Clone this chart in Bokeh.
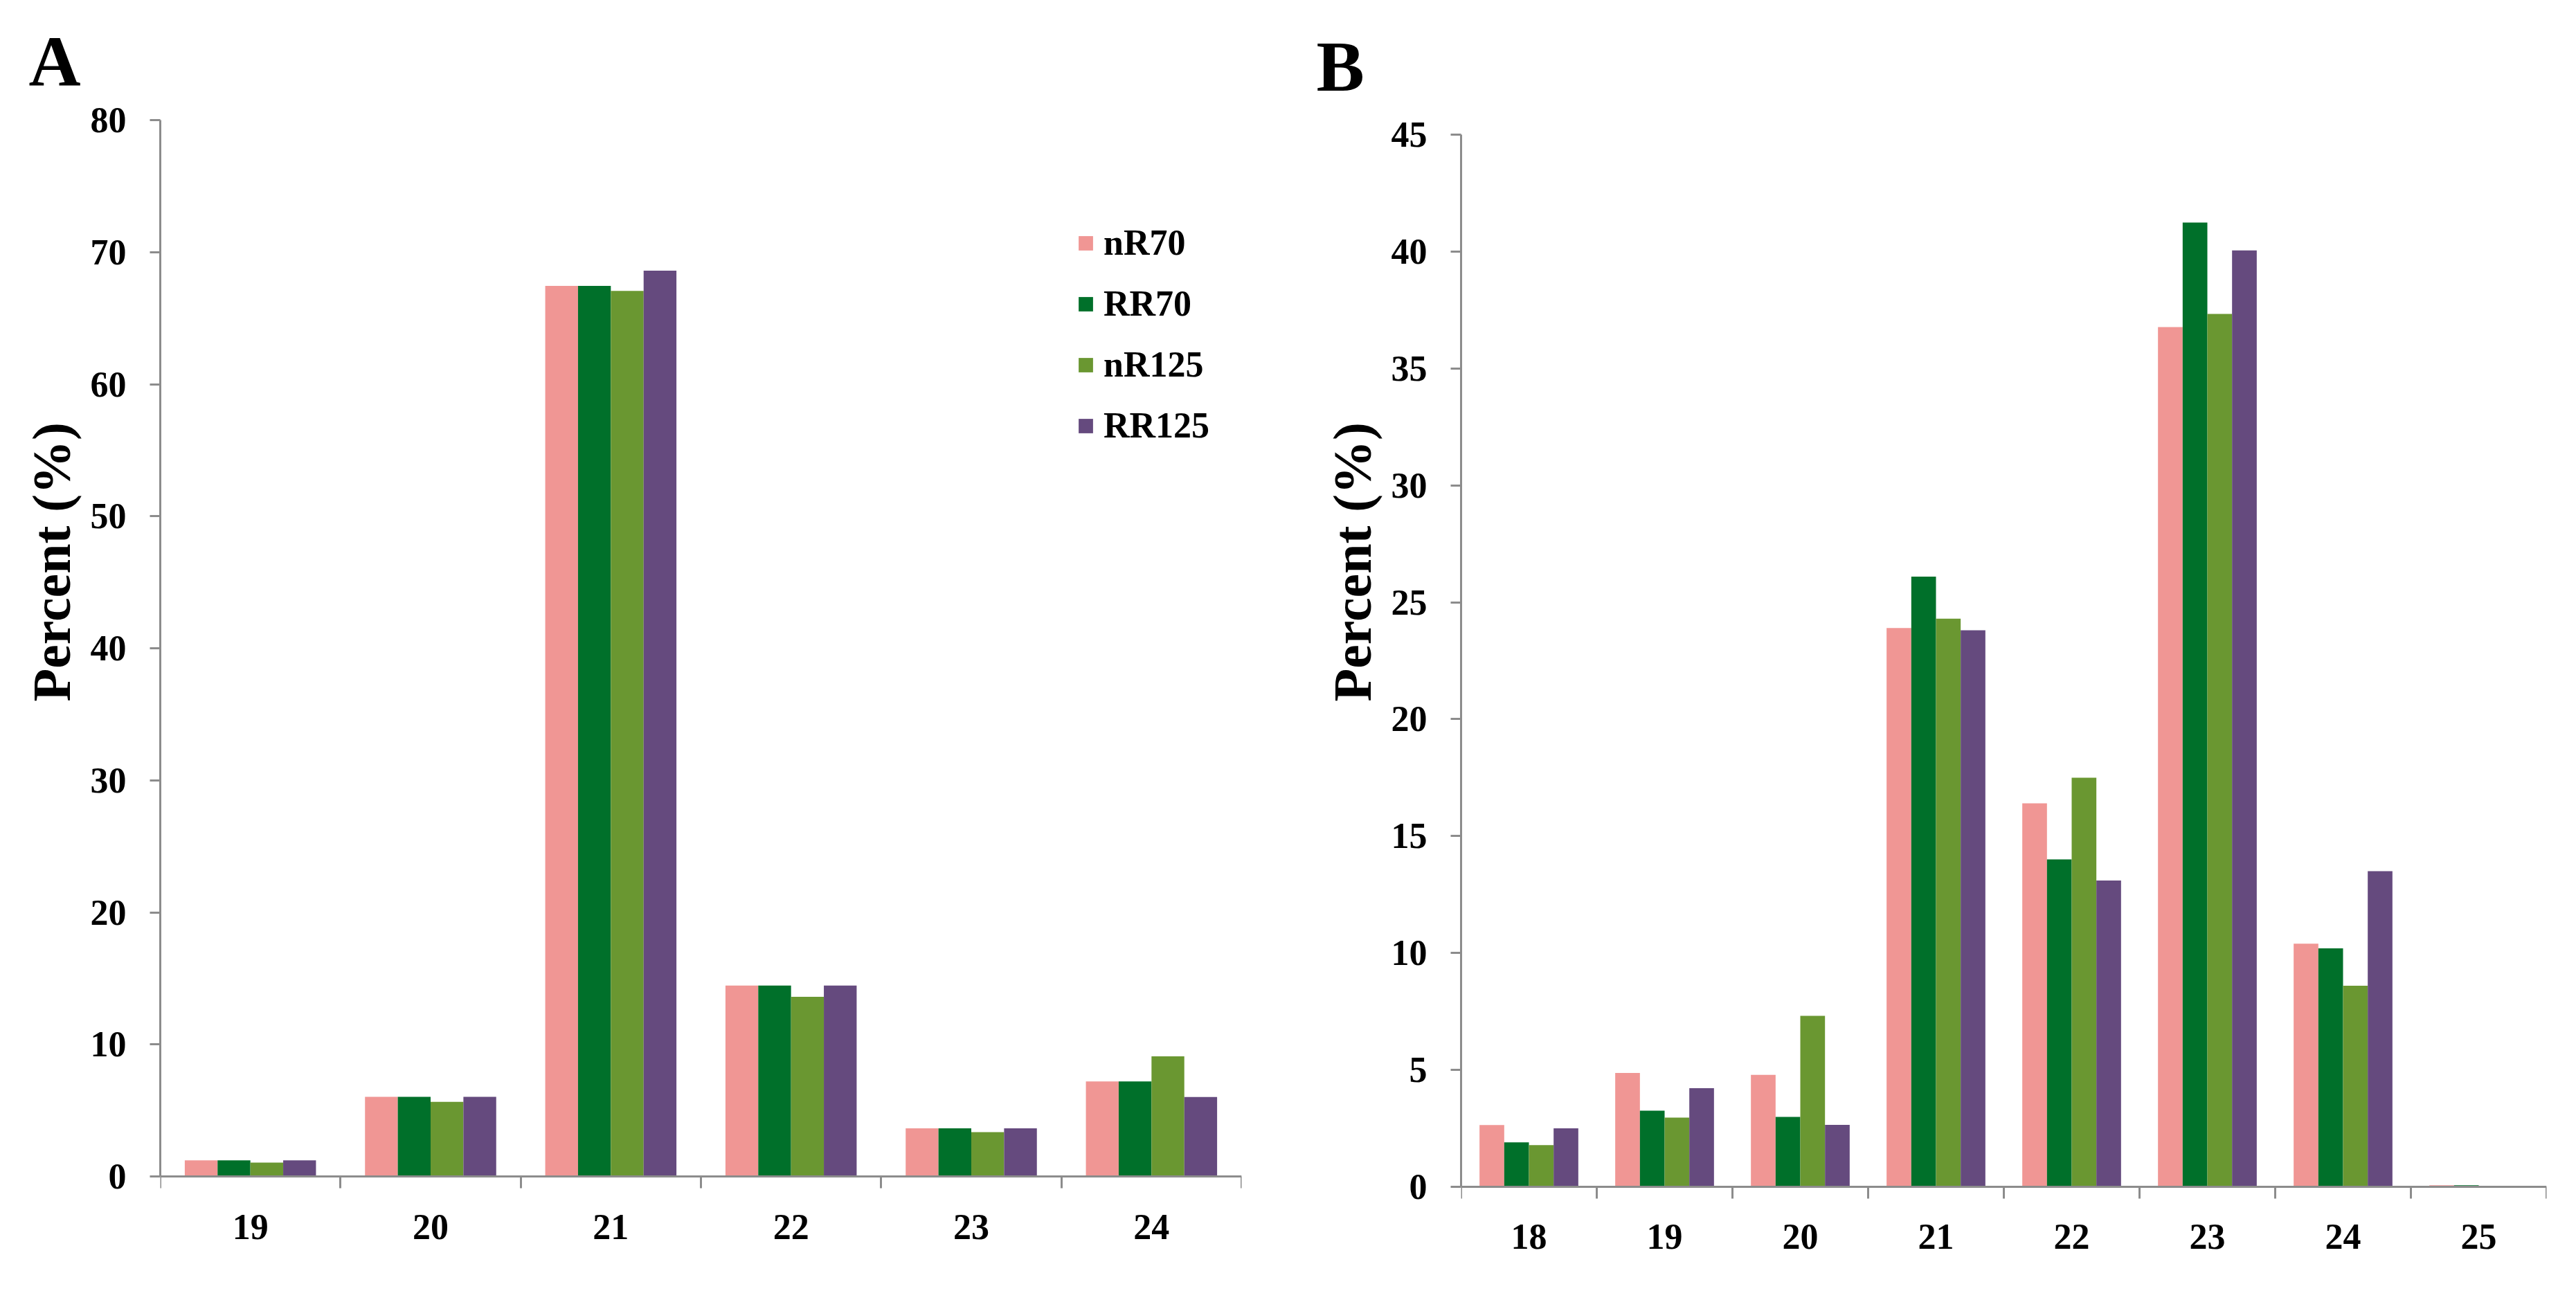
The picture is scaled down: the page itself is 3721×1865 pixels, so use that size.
from bokeh.plotting import figure
from bokeh.models import (FixedTicker, Range1d, Legend, LegendItem, Title,
                          ColumnDataSource, LinearAxis)
from bokeh.layouts import row
from bokeh.embed import file_html
from bokeh.resources import INLINE

FONT = "Liberation Serif"

series = ["nR70", "RR70", "nR125", "RR125"]
colors = ["#F09694", "#00702A", "#6A9731", "#654A7E"]

# Panel A
lengths_a = [19, 20, 21, 22, 23, 24]
nR70_a = [1.22, 6.03, 67.45, 14.45, 3.64, 7.2]
RR70_a = [1.22, 6.03, 67.45, 14.45, 3.64, 7.2]
nR125_a = [1.05, 5.65, 67.07, 13.6, 3.36, 9.09]
RR125_a = [1.22, 6.03, 68.6, 14.45, 3.64, 6.01]
yticks_a = [0, 10, 20, 30, 40, 50, 60, 70, 80]

# Panel B
lengths_b = [18, 19, 20, 21, 22, 23, 24, 25]
nR70_b = [2.64, 4.87, 4.79, 23.9, 16.4, 36.77, 10.4, 0.07]
RR70_b = [1.9, 3.26, 2.99, 26.1, 14.0, 41.24, 10.2, 0.07]
nR125_b = [1.78, 2.96, 7.31, 24.3, 17.5, 37.33, 8.6, 0.0]
RR125_b = [2.5, 4.22, 2.65, 23.8, 13.1, 40.05, 13.5, 0.0]
yticks_b = [0, 5, 10, 15, 20, 25, 30, 35, 40, 45]

AXIS_COLOR = "#8C8C8C"
BAR_W = 0.182
HEIGHT = 1849
TOP = 173
BOTTOM = 117


def style_axis(ax):
    ax.axis_line_color = AXIS_COLOR
    ax.axis_line_width = 3
    ax.major_tick_line_color = AXIS_COLOR
    ax.major_tick_line_width = 3
    ax.minor_tick_line_color = AXIS_COLOR
    ax.minor_tick_line_width = 3
    ax.major_label_text_font = FONT
    ax.major_label_text_font_style = "bold"
    ax.major_label_text_font_size = "52px"
    ax.major_label_text_color = "black"


def panel(lengths, values, yticks, ypad_lo, ypad_hi, letter, width, left, right,
          xlabel_standoff, letter_offset, letter_standoff, ylabel_offset, legend_loc=None):
    p = figure(width=width, height=HEIGHT, output_backend="svg", toolbar_location=None,
               x_range=Range1d(lengths[0] - 0.5, lengths[-1] + 0.5),
               y_range=Range1d(yticks[0] - ypad_lo, yticks[-1] + ypad_hi),
               min_border_left=left, min_border_right=right,
               min_border_top=TOP, min_border_bottom=BOTTOM)
    p.outline_line_color = None
    p.xgrid.grid_line_color = None
    p.ygrid.grid_line_color = None
    p.background_fill_color = "white"
    p.border_fill_color = "white"

    renderers = []
    for k, (name, vals) in enumerate(zip(series, values)):
        src = ColumnDataSource(dict(x=[c + (k - 1.5) * BAR_W for c in lengths], top=vals))
        r = p.vbar(x="x", top="top", bottom=0, width=BAR_W, source=src,
                   fill_color=colors[k], line_color=None)
        renderers.append((name, r))

    ticker = FixedTicker(ticks=lengths,
                         minor_ticks=[c - 0.5 for c in lengths] + [lengths[-1] + 0.5])

    # category labels (at frame bottom): text only
    xa = p.xaxis[0]
    style_axis(xa)
    xa.ticker = ticker
    xa.axis_line_color = None
    xa.major_tick_line_color = None
    xa.minor_tick_line_color = None
    xa.major_tick_out = 0
    xa.major_tick_in = 0
    xa.minor_tick_out = 0
    xa.minor_tick_in = 0
    xa.major_label_standoff = xlabel_standoff

    # axis line and boundary ticks at y = 0
    xl = LinearAxis(ticker=ticker, fixed_location=0)
    style_axis(xl)
    xl.major_tick_out = 0
    xl.major_tick_in = 0
    xl.minor_tick_out = 17
    xl.minor_tick_in = 0
    xl.major_label_standoff = 0
    xl.major_label_text_font_size = "0px"
    xl.major_label_text_alpha = 0
    p.add_layout(xl, "below")

    ya = p.yaxis[0]
    style_axis(ya)
    ya.bounds = (yticks[0], yticks[-1])
    ya.ticker = FixedTicker(ticks=yticks, minor_ticks=[])
    ya.major_tick_out = 15
    ya.major_tick_in = 0
    ya.minor_tick_out = 0
    ya.minor_tick_in = 0
    ya.major_label_standoff = 34

    p.add_layout(Title(text="Percent (%)", align="left", offset=ylabel_offset,
                       standoff=20, text_font=FONT, text_font_style="bold",
                       text_font_size="78px", text_color="black"), "left")

    p.add_layout(Title(text=letter, align="left", vertical_align="top",
                       offset=letter_offset, standoff=letter_standoff,
                       text_font=FONT, text_font_style="bold",
                       text_font_size="104px", text_color="black"), "above")

    if legend_loc is not None:
        legend = Legend(items=[LegendItem(label=n, renderers=[r]) for n, r in renderers],
                        location=legend_loc)
        legend.glyph_width = 26
        legend.glyph_height = 26
        legend.label_standoff = 13
        legend.spacing = 29
        legend.padding = 0
        legend.margin = 0
        legend.border_line_color = None
        legend.background_fill_alpha = 0
        legend.label_text_font = FONT
        legend.label_text_font_style = "bold"
        legend.label_text_font_size = "52px"
        legend.label_text_color = "black"
        p.add_layout(legend)
    return p


pa = panel(lengths_a, [nR70_a, RR70_a, nR125_a, RR125_a], yticks_a, 1.730, 0.0, "A",
           width=1872, left=231, right=79, xlabel_standoff=22,
           letter_offset=-190, letter_standoff=52, ylabel_offset=719,
           legend_loc=(1324, 1088))
pb = panel(lengths_b, [nR70_b, RR70_b, nR125_b, RR125_b], yticks_b, 0.533, 0.622, "B",
           width=1833, left=238, right=27, xlabel_standoff=36,
           letter_offset=-209, letter_standoff=38, ylabel_offset=719)

layout = row(pa, pb)
open("out.html", "w").write(file_html(layout, INLINE))
